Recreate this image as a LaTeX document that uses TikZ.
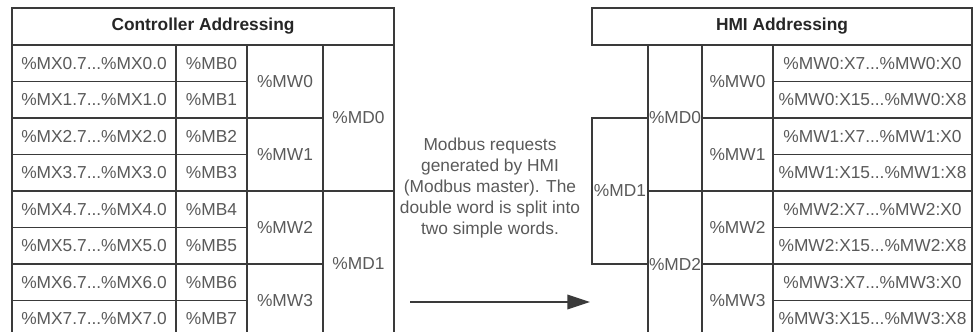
\documentclass[tikz,border=0pt]{standalone}
\usepackage{fontspec}
\setmainfont{Liberation Sans}
\usetikzlibrary{arrows.meta}
\definecolor{rule}{HTML}{3A3A3A}
\definecolor{txt}{HTML}{5A5A5A}
\tikzset{cell/.style={draw=rule,line width=0.9pt,text=txt,inner sep=0pt,font=\fontsize{13}{15.75}\selectfont}, head/.style={cell,text=black!85,font=\fontsize{13}{15.75}\selectfont\bfseries,minimum height=27.75pt}, bit/.style={cell,minimum height=27.375pt}, word/.style={cell,minimum height=54.75pt}, dword/.style={cell,minimum height=109.5pt}, arr/.style={-{Triangle[length=17pt,width=11pt]},line width=1.1pt,draw=rule}}

\begin{document}
\begin{tikzpicture}[x=0.75pt,y=-0.75pt]
\useasboundingbox[fill=white] (0,0) rectangle (976,332);
% controller side
\node[head,minimum width=286.5pt] (lhead) at (203,26.5){Controller Addressing};
\node[bit,minimum width=123pt] (mx0) at (94,63.25){\%MX0.7...\%MX0.0};
\node[bit,minimum width=123pt] (mx1) at (94,99.75){\%MX1.7...\%MX1.0};
\node[bit,minimum width=123pt] (mx2) at (94,136.25){\%MX2.7...\%MX2.0};
\node[bit,minimum width=123pt] (mx3) at (94,172.75){\%MX3.7...\%MX3.0};
\node[bit,minimum width=123pt] (mx4) at (94,209.25){\%MX4.7...\%MX4.0};
\node[bit,minimum width=123pt] (mx5) at (94,245.75){\%MX5.7...\%MX5.0};
\node[bit,minimum width=123pt] (mx6) at (94,282.25){\%MX6.7...\%MX6.0};
\node[bit,minimum width=123pt] (mx7) at (94,318.75){\%MX7.7...\%MX7.0};
\node[bit,minimum width=53.25pt] (mb0) at (211.5,63.25){\%MB0};
\node[bit,minimum width=53.25pt] (mb1) at (211.5,99.75){\%MB1};
\node[bit,minimum width=53.25pt] (mb2) at (211.5,136.25){\%MB2};
\node[bit,minimum width=53.25pt] (mb3) at (211.5,172.75){\%MB3};
\node[bit,minimum width=53.25pt] (mb4) at (211.5,209.25){\%MB4};
\node[bit,minimum width=53.25pt] (mb5) at (211.5,245.75){\%MB5};
\node[bit,minimum width=53.25pt] (mb6) at (211.5,282.25){\%MB6};
\node[bit,minimum width=53.25pt] (mb7) at (211.5,318.75){\%MB7};
\node[word,minimum width=57pt] (mw0) at (285,81.5){\%MW0};
\node[word,minimum width=57pt] (mw1) at (285,154.5){\%MW1};
\node[word,minimum width=57pt] (mw2) at (285,227.5){\%MW2};
\node[word,minimum width=57pt] (mw3) at (285,300.5){\%MW3};
\node[dword,minimum width=53.25pt] (md0) at (358.5,118){\%MD0};
\node[dword,minimum width=53.25pt] (md1) at (358.5,264){\%MD1};
% request note and arrow
\node[text=txt,align=center,font=\fontsize{13}{15.75}\selectfont] (note) at (490,188){Modbus requests\\generated by HMI\\(Modbus master). The\\double word is split into\\two simple words.};
\coordinate (req0) at (410,302);
\coordinate (req1) at (590,302);
\draw[arr] (req0)--(req1);
% HMI side
\node[head,minimum width=285pt] (rhead) at (782,26.5){HMI Addressing};
\node[dword,minimum width=42pt] (hmd1) at (620,191){\%MD1};
\node[dword,minimum width=40.5pt] (hmd0) at (675,118){\%MD0};
\node[dword,minimum width=40.5pt] (hmd2) at (675,264){\%MD2};
\node[word,minimum width=53.25pt] (hmw0) at (737.5,81.5){\%MW0};
\node[word,minimum width=53.25pt] (hmw1) at (737.5,154.5){\%MW1};
\node[word,minimum width=53.25pt] (hmw2) at (737.5,227.5){\%MW2};
\node[word,minimum width=53.25pt] (hmw3) at (737.5,300.5){\%MW3};
\node[bit,minimum width=149.25pt] (hx0) at (872.5,63.25){\%MW0:X7...\%MW0:X0};
\node[bit,minimum width=149.25pt] (hx1) at (872.5,99.75){\%MW0:X15...\%MW0:X8};
\node[bit,minimum width=149.25pt] (hx2) at (872.5,136.25){\%MW1:X7...\%MW1:X0};
\node[bit,minimum width=149.25pt] (hx3) at (872.5,172.75){\%MW1:X15...\%MW1:X8};
\node[bit,minimum width=149.25pt] (hx4) at (872.5,209.25){\%MW2:X7...\%MW2:X0};
\node[bit,minimum width=149.25pt] (hx5) at (872.5,245.75){\%MW2:X15...\%MW2:X8};
\node[bit,minimum width=149.25pt] (hx6) at (872.5,282.25){\%MW3:X7...\%MW3:X0};
\node[bit,minimum width=149.25pt] (hx7) at (872.5,318.75){\%MW3:X15...\%MW3:X8};
\end{tikzpicture}
\end{document}
